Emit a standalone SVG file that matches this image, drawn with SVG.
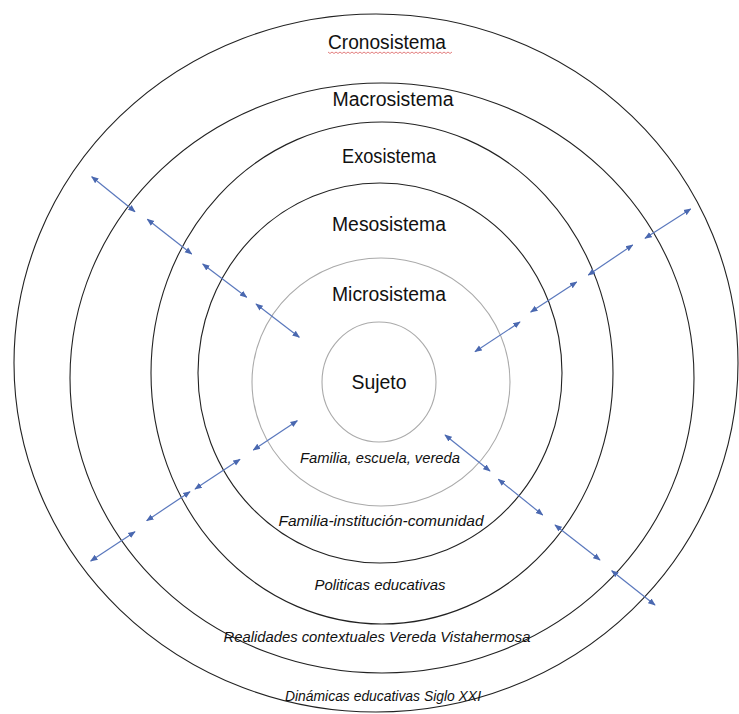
<svg xmlns="http://www.w3.org/2000/svg" width="739" height="714" viewBox="0 0 739 714">
<style>
.ring{fill:none;stroke:#222;stroke-width:1.1}
.ring-light{fill:none;stroke:#aaa;stroke-width:1.1}
.lbl{font-family:"Liberation Sans","DejaVu Sans",sans-serif;font-size:19.5px;fill:#111;text-anchor:middle}
.ital{font-family:"Liberation Sans","DejaVu Sans",sans-serif;font-size:14px;font-style:italic;fill:#111;text-anchor:middle}
.arr{stroke:#5a78bd;stroke-width:1.2;fill:none;marker-start:url(#ah);marker-end:url(#ah)}
</style>
<defs>
<marker id="ah" viewBox="0 0 10 10" refX="9" refY="5" markerWidth="7.5" markerHeight="7.5" markerUnits="userSpaceOnUse" orient="auto-start-reverse">
<path d="M0,1 L10,5 L0,9 Z" fill="#4a68b0"/>
</marker>
</defs>
<rect width="739" height="714" fill="#fff"/>
<g id="cronosistema">
<ellipse class="ring" cx="376" cy="363" rx="362" ry="349"/>
<text class="lbl" x="387" y="49" textLength="118" lengthAdjust="spacingAndGlyphs">Cronosistema</text>
<path d="M328,52 l2,1.5 l2,-1.5 l2,1.5 l2,-1.5 l2,1.5 l2,-1.5 l2,1.5 l2,-1.5 l2,1.5 l2,-1.5 l2,1.5 l2,-1.5 l2,1.5 l2,-1.5 l2,1.5 l2,-1.5 l2,1.5 l2,-1.5 l2,1.5 l2,-1.5 l2,1.5 l2,-1.5 l2,1.5 l2,-1.5 l2,1.5 l2,-1.5 l2,1.5 l2,-1.5 l2,1.5 l2,-1.5 l2,1.5 l2,-1.5 l2,1.5 l2,-1.5 l2,1.5 l2,-1.5 l2,1.5 l2,-1.5 l2,1.5 l2,-1.5 l2,1.5 l2,-1.5 l2,1.5 l2,-1.5 l2,1.5 l2,-1.5 l2,1.5 l2,-1.5 l2,1.5 l2,-1.5 l2,1.5 l2,-1.5 l2,1.5 l2,-1.5 l2,1.5 l2,-1.5 l2,1.5 l2,-1.5 l2,1.5 l2,-1.5 l2,1.5 l2,-1.5" fill="none" stroke="#e07070" stroke-width="0.9"/>
<text class="ital" x="383" y="701" textLength="196" lengthAdjust="spacingAndGlyphs">Dinámicas educativas Siglo XXI</text>
</g>
<g id="macrosistema">
<ellipse class="ring" cx="382" cy="378" rx="312" ry="295"/>
<text class="lbl" x="393" y="106" textLength="121" lengthAdjust="spacingAndGlyphs">Macrosistema</text>
<text class="ital" x="377" y="642" textLength="307" lengthAdjust="spacingAndGlyphs">Realidades contextuales Vereda Vistahermosa</text>
</g>
<g id="exosistema">
<ellipse class="ring" cx="382" cy="373" rx="231" ry="251"/>
<text class="lbl" x="389" y="163" textLength="94" lengthAdjust="spacingAndGlyphs">Exosistema</text>
<text class="ital" x="380" y="590" textLength="131" lengthAdjust="spacingAndGlyphs">Politicas educativas</text>
</g>
<g id="mesosistema">
<ellipse class="ring" cx="380" cy="373" rx="182" ry="190"/>
<text class="lbl" x="389" y="231" textLength="114" lengthAdjust="spacingAndGlyphs">Mesosistema</text>
<text class="ital" x="381" y="526" textLength="205" lengthAdjust="spacingAndGlyphs">Familia-institución-comunidad</text>
</g>
<g id="microsistema">
<ellipse class="ring-light" cx="381" cy="382" rx="129" ry="124"/>
<text class="lbl" x="389" y="301" textLength="114" lengthAdjust="spacingAndGlyphs">Microsistema</text>
<text class="ital" x="380" y="463" textLength="160" lengthAdjust="spacingAndGlyphs">Familia, escuela, vereda</text>
</g>
<g id="sujeto">
<ellipse class="ring-light" cx="379" cy="382" rx="57" ry="60"/>
<text class="lbl" x="379" y="389" textLength="55" lengthAdjust="spacingAndGlyphs">Sujeto</text>
</g>
<g id="connectors">
<line class="arr" x1="91.7" y1="176.7" x2="135" y2="211.7"/>
<line class="arr" x1="147.3" y1="219.3" x2="191.7" y2="254"/>
<line class="arr" x1="202.7" y1="264" x2="246.7" y2="297.3"/>
<line class="arr" x1="256" y1="304" x2="299.3" y2="337.3"/>
<line class="arr" x1="690.7" y1="209" x2="645" y2="238.3"/>
<line class="arr" x1="632.7" y1="245" x2="588.3" y2="275"/>
<line class="arr" x1="576.7" y1="282" x2="530.7" y2="312"/>
<line class="arr" x1="520" y1="322" x2="475" y2="351.7"/>
<line class="arr" x1="297.3" y1="420.7" x2="253.3" y2="450"/>
<line class="arr" x1="240" y1="459.3" x2="195" y2="489"/>
<line class="arr" x1="190" y1="491.7" x2="146.7" y2="520.7"/>
<line class="arr" x1="135" y1="531.7" x2="90.7" y2="561"/>
<line class="arr" x1="445" y1="435" x2="490" y2="471"/>
<line class="arr" x1="498.3" y1="479.3" x2="542.7" y2="515"/>
<line class="arr" x1="555" y1="525" x2="600" y2="560"/>
<line class="arr" x1="611.7" y1="570.7" x2="655" y2="605"/>
</g>
</svg>
